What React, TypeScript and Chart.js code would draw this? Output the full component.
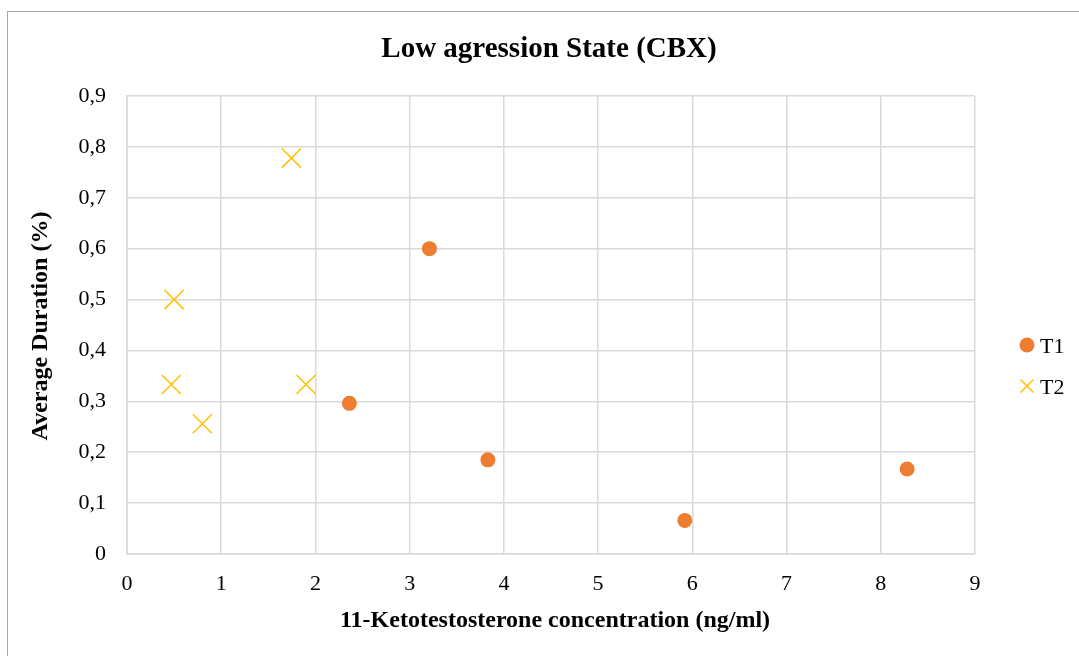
import React, { useEffect, useRef } from "react";
import { Chart, registerables } from "chart.js";

Chart.register(...registerables);

// Measured series: 11-KT concentration (ng/ml) vs average duration
const t1X = [3.21, 2.36, 3.83, 5.92, 8.28];
const t1Y = [0.6, 0.296, 0.185, 0.066, 0.167];
const t2X = [1.745, 0.5, 0.47, 0.8, 1.9];
const t2Y = [0.778, 0.5, 0.333, 0.256, 0.333];

const seriesNames = ["T1", "T2"];
const xTicks = [0, 1, 2, 3, 4, 5, 6, 7, 8, 9];
const yTicks = [0, 0.1, 0.2, 0.3, 0.4, 0.5, 0.6, 0.7, 0.8, 0.9];

const chartTitle = "Low agression State (CBX)";
const xTitle = "11-Ketotestosterone concentration (ng/ml)";
const yTitle = "Average Duration (%)";

const ORANGE = "#ED7D31";
const GOLD = "#FFC000";
const GRID = "#d9d9d9";
const SERIF = "'Liberation Serif', 'Times New Roman', serif";

const toPoints = (xs: number[], ys: number[]) => xs.map((x, i) => ({ x, y: ys[i] }));

// Frame, titles and legend drawn on top of the chart canvas
const decorations = {
  id: "decorations",
  afterDraw(chart: any) {
    const { ctx, chartArea } = chart;
    ctx.save();

    ctx.strokeStyle = "#a6a6a6";
    ctx.lineWidth = 1;
    ctx.strokeRect(7.5, 11.5, 1200, 800);

    ctx.fillStyle = "#000";
    ctx.textAlign = "center";
    ctx.textBaseline = "alphabetic";
    ctx.font = `bold 29px ${SERIF}`;
    ctx.fillText(chartTitle, 549, 57);

    ctx.font = `bold 24px ${SERIF}`;
    ctx.fillText(xTitle, 555, 627);

    ctx.save();
    ctx.translate(47, (chartArea.top + chartArea.bottom) / 2 + 1);
    ctx.rotate(-Math.PI / 2);
    ctx.fillText(yTitle, 0, 0);
    ctx.restore();

    // legend
    const lx = 1027;
    const rows = [345, 386];
    ctx.font = `22px ${SERIF}`;
    ctx.textAlign = "left";
    ctx.textBaseline = "alphabetic";

    ctx.fillStyle = ORANGE;
    ctx.beginPath();
    ctx.arc(lx, rows[0], 7.5, 0, Math.PI * 2);
    ctx.fill();

    ctx.strokeStyle = GOLD;
    ctx.lineWidth = 1.5;
    const h = 6.5;
    ctx.beginPath();
    ctx.moveTo(lx - h, rows[1] - h);
    ctx.lineTo(lx + h, rows[1] + h);
    ctx.moveTo(lx + h, rows[1] - h);
    ctx.lineTo(lx - h, rows[1] + h);
    ctx.stroke();

    ctx.fillStyle = "#000";
    ctx.fillText(seriesNames[0], 1040, rows[0] + 8);
    ctx.fillText(seriesNames[1], 1040, rows[1] + 8);

    ctx.restore();
  },
};

export default function App() {
  const canvasRef = useRef<HTMLCanvasElement | null>(null);

  useEffect(() => {
    const canvas = canvasRef.current;
    if (!canvas) return;
    const chart = new Chart(canvas, {
      type: "scatter",
      data: {
        datasets: [
          {
            label: seriesNames[0],
            data: toPoints(t1X, t1Y),
            pointStyle: "circle",
            pointRadius: 7.5,
            pointHoverRadius: 7.5,
            pointBackgroundColor: ORANGE,
            pointBorderColor: ORANGE,
            pointBorderWidth: 0,
          },
          {
            label: seriesNames[1],
            data: toPoints(t2X, t2Y),
            pointStyle: "crossRot",
            pointRadius: 13.5,
            pointHoverRadius: 13.5,
            pointBorderColor: GOLD,
            pointBackgroundColor: GOLD,
            pointBorderWidth: 1.5,
          },
        ],
      },
      options: {
        animation: false,
        responsive: false,
        maintainAspectRatio: false,
        layout: { padding: { top: 96, right: 104, left: 0, bottom: 0 } },
        plugins: {
          legend: { display: false },
          title: { display: false },
          tooltip: { enabled: false },
        },
        scales: {
          x: {
            type: "linear",
            min: 0,
            max: 9,
            afterFit: (s: any) => {
              s.height = 102;
            },
            afterBuildTicks: (s: any) => {
              s.ticks = xTicks.map((v) => ({ value: v }));
            },
            ticks: {
              padding: 17,
              color: "#000",
              font: { family: SERIF, size: 22 },
              callback: (v: any) => String(v),
            },
            grid: { color: GRID, lineWidth: 1.5, drawTicks: false },
            border: { color: GRID, width: 1.5 },
          },
          y: {
            type: "linear",
            min: 0,
            max: 0.9,
            afterFit: (s: any) => {
              s.width = 127;
            },
            afterBuildTicks: (s: any) => {
              s.ticks = yTicks.map((v) => ({ value: v }));
            },
            ticks: {
              padding: 21,
              color: "#000",
              font: { family: SERIF, size: 22 },
              callback: (v: any) => (Number(v) === 0 ? "0" : Number(v).toFixed(1).replace(".", ",")),
            },
            grid: { color: GRID, lineWidth: 1.5, drawTicks: false },
            border: { color: GRID, width: 1.5 },
          },
        },
      },
      plugins: [decorations],
    });
    return () => chart.destroy();
  }, []);

  return (
    <div style={{ position: "fixed", left: 0, top: 0, width: 1079, height: 656, background: "#fff" }}>
      <canvas ref={canvasRef} width={1079} height={656} style={{ display: "block" }} />
    </div>
  );
}
